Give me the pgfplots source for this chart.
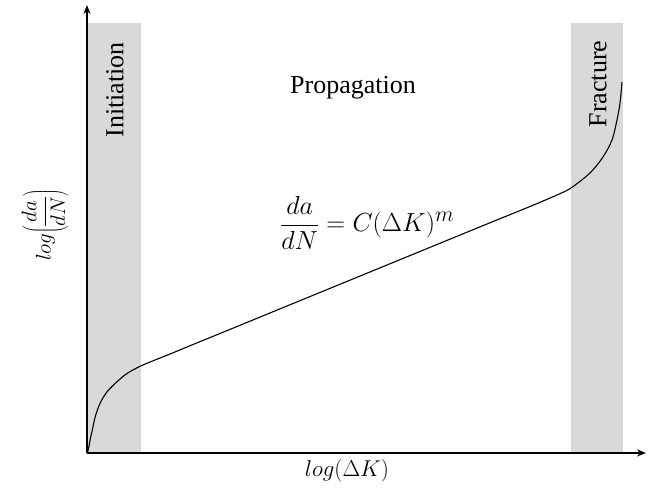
\documentclass[border=0pt]{standalone}
\usepackage{graphicx}
\usepackage{pgfplots}
\pgfplotsset{compat=1.18}
\usepackage{fontspec}
\setmainfont{Liberation Serif}
\usetikzlibrary{arrows.meta}
\definecolor{bandgray}{RGB}{217,217,217}
\begin{document}
\begin{tikzpicture}[x=1pt,y=1pt]
\path[use as bounding box] (0,0) rectangle (654,492);
\begin{axis}[
  at={(87pt,39pt)}, anchor=south west,
  scale only axis, width=559pt, height=448pt,
  xmin=0, xmax=559, ymin=0, ymax=448,
  axis lines=left,
  axis line style={line width=1.6pt, -{Stealth[length=9pt,width=7pt]}},
  xtick=\empty, ytick=\empty,
  axis on top=true,
  clip=false,
]
% shaded bands
\addplot[fill=bandgray, draw=none] coordinates {(0,430) (54,430)} \closedcycle;
\addplot[fill=bandgray, draw=none] coordinates {(484,430) (536,430)} \closedcycle;
% crack growth curve
\addplot[black, line width=1.1pt, smooth, tension=0.5] coordinates {
(0.5,0) (2,7) (3.5,15) (5.3,23) (8.7,38) (13.7,51) (20.3,61.5) (30.3,71.5) (40.3,79.7) (53.7,87) (67,92.6) (85.3,99.9) (106,108.5) (133,119.5) (200,147) (300,188) (400,229) (443,246.5) (470,258) (484,265) (503,280) (516,296) (525,313) (530,333) (533,350) (535,371)
};
\node[rotate=90, font=\fontsize{26}{30}\selectfont, inner sep=0] at (axis cs:28,363) {Initiation};
\node[rotate=90, font=\fontsize{26}{30}\selectfont, inner sep=0] at (axis cs:511,369) {Fracture};
\node[font=\fontsize{26}{30}\selectfont, inner sep=0] at (axis cs:266,365) {Propagation};
\node[font=\fontsize{24.88}{28}\selectfont, inner sep=0, anchor=west] at (axis cs:193,230) {\scalebox{1.05}{$\displaystyle \frac{da}{dN} = C(\Delta K)^{m}$}};
\node[font=\fontsize{24}{28}\selectfont, inner sep=0] at (axis cs:260,-18) {\scalebox{0.92}{$log(\Delta K)$}};
\node[rotate=90, font=\fontsize{24}{28}\selectfont, inner sep=0] at (axis cs:-42,228) {\scalebox{0.85}{$\displaystyle \nulldelimiterspace=0pt log\!\left(\frac{da}{dN}\right)$}};
\end{axis}
\end{tikzpicture}
\end{document}
